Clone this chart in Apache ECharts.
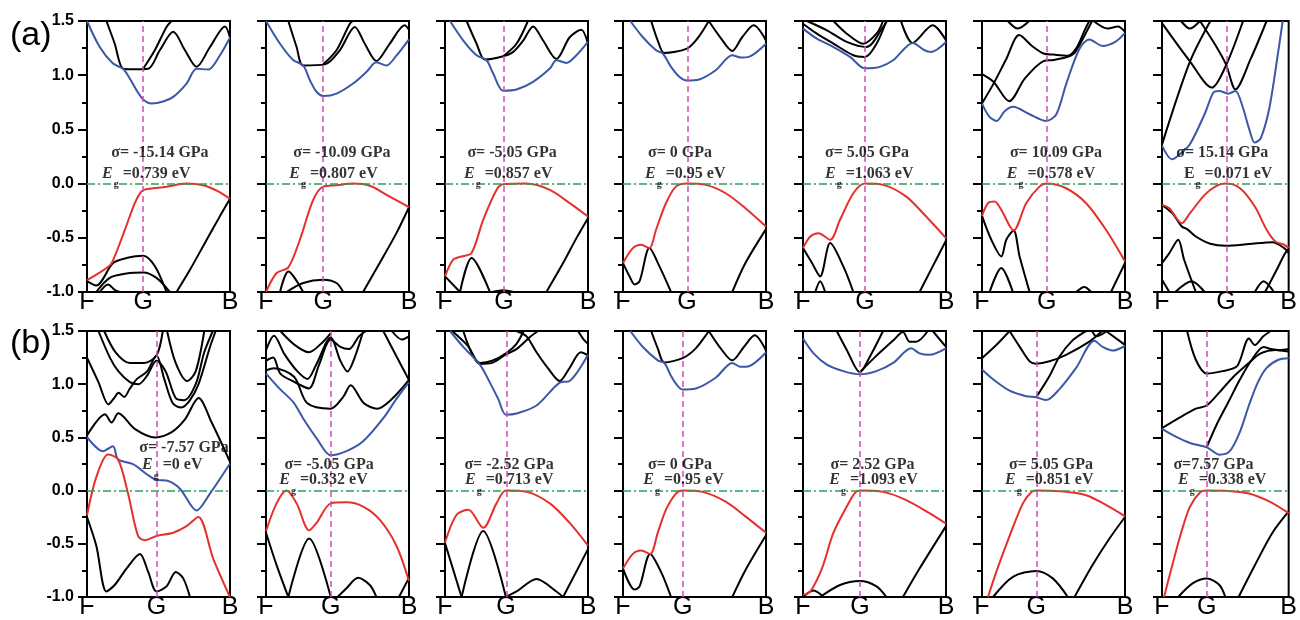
<!DOCTYPE html>
<html>
<head>
<meta charset="utf-8">
<script src="https://cdn.jsdelivr.net/npm/echarts@6/dist/echarts.min.js"></script>
<style>
  html, body { margin: 0; padding: 0; background: #fff; }
  #chart { width: 1300px; height: 620px; }
</style>
</head>
<body>
<div id="chart"></div>
<script>
// ---- axis ticks and k-path labels ----
const Y_TICKS = [-1.0, -0.5, 0.0, 0.5, 1.0, 1.5];
const K_LABELS = ['F', 'G', 'B'];

// position of the G point along the F-G-B path (fraction of path length)
const G_POS_A = [0.393, 0.40, 0.412, 0.447, 0.433, 0.453, 0.505];
const G_POS_B = [0.486, 0.453, 0.426, 0.417, 0.398, 0.379, 0.353];

// applied stress and band gap for each panel
const SIGMA_A = ['σ= -15.14 GPa', 'σ= -10.09 GPa', 'σ= -5.05 GPa', 'σ= 0 GPa', 'σ= 5.05 GPa', 'σ= 10.09 GPa', 'σ= 15.14 GPa'];
const GAP_A = ['0.739', '0.807', '0.857', '0.95', '1.063', '0.578', '0.071'];
const SIGMA_B = ['σ= -7.57 GPa', 'σ= -5.05 GPa', 'σ= -2.52 GPa', 'σ= 0 GPa', 'σ= 2.52 GPa', 'σ= 5.05 GPa', 'σ=7.57 GPa'];
const GAP_B = ['0', '0.332', '0.713', '0.95', '1.093', '0.851', '0.338'];

// ---- band energies (eV) along the path: [k, E] ----
// (a) row
const A1_CB = [[0,1.5],[0.089,1.26],[0.182,1.107],[0.252,1.06],[0.299,0.97],[0.346,0.862],[0.393,0.776],[0.451,0.739],[0.533,0.757],[0.603,0.80],[0.696,0.923],[0.766,1.06],[0.848,1.052],[0.93,1.184],[1,1.347]];
const A1_VB = [[0,-0.89],[0.159,-0.755],[0.194,-0.67],[0.264,-0.43],[0.334,-0.18],[0.374,-0.083],[0.397,-0.058],[0.556,-0.03],[0.696,0],[0.813,-0.015],[0.907,-0.065],[1,-0.14]];
const A1_BANDS = [
  [[0.626,-1.0],[0.72,-0.795],[0.836,-0.52],[0.93,-0.30],[1,-0.14]],
  [[0,-0.90],[0.065,-0.94],[0.182,-0.733],[0.276,-0.687],[0.393,-0.665],[0.474,-0.76],[0.556,-1.0]],
  [[0.065,-1.0],[0.159,-0.87],[0.276,-0.83],[0.393,-0.82],[0.486,-0.87],[0.579,-1.0]],
  [[0.089,-1.0],[0.147,-0.93],[0.194,-0.98],[0.229,-1.0]],
  [[0.136,1.5],[0.194,1.29],[0.252,1.06],[0.322,1.055],[0.428,1.06],[0.509,1.23],[0.603,1.40],[0.685,1.23],[0.766,1.077],[0.86,1.26],[0.965,1.45],[1,1.35]],
  [[0.393,1.06],[0.474,1.23],[0.556,1.445],[0.591,1.5]]
];

const A2_CB = [[0,1.5],[0.098,1.29],[0.19,1.14],[0.26,1.09],[0.307,0.954],[0.353,0.847],[0.405,0.807],[0.493,0.83],[0.609,0.923],[0.702,1.03],[0.772,1.12],[0.842,1.09],[0.912,1.18],[1,1.33]];
const A2_VB = [[0,-1.0],[0.074,-0.825],[0.156,-0.773],[0.237,-0.518],[0.33,-0.15],[0.40,-0.028],[0.493,-0.015],[0.609,0],[0.726,-0.02],[0.865,-0.12],[1,-0.218]];
const A2_BANDS = [
  [[0.679,-1.0],[0.795,-0.733],[0.912,-0.457],[1,-0.218]],
  [[0.098,-1.0],[0.156,-0.81],[0.26,-1.0]],
  [[0.144,-1.0],[0.26,-0.917],[0.40,-0.887],[0.493,-0.917],[0.54,-1.0]],
  [[0.156,1.5],[0.214,1.26],[0.26,1.09],[0.412,1.10],[0.516,1.23],[0.621,1.445],[0.691,1.29],[0.772,1.13],[0.865,1.29],[0.97,1.46],[1,1.42]],
  [[0.40,1.10],[0.493,1.23],[0.586,1.475],[0.609,1.5]]
];

const A3_CB = [[0.035,1.5],[0.128,1.32],[0.221,1.184],[0.291,1.138],[0.337,1.015],[0.407,0.857],[0.50,0.868],[0.616,0.939],[0.733,1.061],[0.779,1.138],[0.849,1.113],[0.919,1.184],[1,1.307]];
const A3_VB = [[0,-0.856],[0.058,-0.70],[0.116,-0.672],[0.186,-0.64],[0.267,-0.334],[0.36,-0.058],[0.407,-0.006],[0.57,0],[0.733,-0.058],[0.872,-0.18],[1,-0.304]];
const A3_BANDS = [
  [[0.709,-1],[0.826,-0.733],[0.919,-0.503],[1,-0.319]],
  [[0,-0.856],[0.105,-1.0]],
  [[0.105,-1.0],[0.186,-0.687],[0.314,-1.0]],
  [[0.33,-1],[0.407,-0.985],[0.48,-1]],
  [[0.151,1.5],[0.221,1.29],[0.279,1.144],[0.407,1.175],[0.477,1.215],[0.547,1.32],[0.616,1.45],[0.686,1.32],[0.779,1.15],[0.872,1.35],[0.953,1.42],[1,1.29]],
  [[0.407,1.175],[0.50,1.29],[0.58,1.5]]
];

const A4_CB = [[0.051,1.5],[0.139,1.35],[0.231,1.23],[0.278,1.20],[0.336,1.077],[0.394,0.985],[0.447,0.95],[0.532,0.96],[0.648,1.046],[0.764,1.184],[0.822,1.163],[0.88,1.169],[1,1.29]];
const A4_VB = [[0,-0.733],[0.069,-0.595],[0.127,-0.564],[0.185,-0.595],[0.231,-0.426],[0.30,-0.181],[0.37,-0.028],[0.447,0],[0.579,-0.012],[0.718,-0.089],[0.856,-0.227],[1,-0.396]];
const A4_BANDS = [
  [[0.764,-1],[0.856,-0.733],[1,-0.42]],
  [[0,-0.733],[0.046,-0.856],[0.081,-0.93],[0.116,-0.90],[0.185,-0.595],[0.255,-0.764],[0.336,-1]],
  [[0.197,1.5],[0.243,1.32],[0.289,1.205],[0.447,1.245],[0.52,1.337],[0.60,1.5]],
  [[0.60,1.5],[0.68,1.35],[0.764,1.224],[0.833,1.35],[0.914,1.46],[1,1.32]]
];

const A5_CB = [[0,1.43],[0.097,1.337],[0.213,1.26],[0.329,1.169],[0.433,1.063],[0.537,1.077],[0.63,1.138],[0.769,1.298],[0.85,1.23],[0.896,1.215],[1,1.307]];
const A5_VB = [[0,-0.595],[0.051,-0.488],[0.109,-0.457],[0.19,-0.518],[0.259,-0.334],[0.352,-0.089],[0.433,0],[0.56,-0.012],[0.722,-0.12],[0.861,-0.304],[1,-0.503]];
const A5_BANDS = [
  [[0.815,-1],[0.907,-0.764],[1,-0.525]],
  [[0,-0.595],[0.063,-0.733],[0.12,-0.856],[0.19,-0.549],[0.282,-0.764],[0.352,-1]],
  [[0.086,-1],[0.12,-0.90],[0.155,-1]],
  [[0,1.475],[0.097,1.383],[0.213,1.291],[0.352,1.184],[0.433,1.169],[0.514,1.29],[0.583,1.5]],
  [[0.028,1.5],[0.167,1.414],[0.306,1.307],[0.444,1.26],[0.56,1.445],[0.588,1.5]],
  [[0.213,1.5],[0.306,1.383],[0.421,1.29],[0.514,1.383],[0.56,1.5]],
  [[0.685,1.5],[0.766,1.298],[0.907,1.46],[1,1.322]]
];

const A6_CB = [[0,0.738],[0.05,0.62],[0.102,0.578],[0.16,0.67],[0.218,0.708],[0.333,0.64],[0.449,0.578],[0.52,0.64],[0.588,0.916],[0.68,1.24],[0.75,1.33],[0.843,1.27],[0.935,1.31],[1,1.39]];
const A6_VB = [[0,-0.298],[0.042,-0.181],[0.088,-0.166],[0.135,-0.242],[0.221,-0.433],[0.309,-0.181],[0.402,-0.028],[0.453,0],[0.588,-0.043],[0.728,-0.181],[0.867,-0.426],[1,-0.718]];
const A6_BANDS = [
  [[0,-0.298],[0.065,-0.518],[0.135,-0.672],[0.17,-0.518],[0.221,-0.433],[0.263,-0.672],[0.333,-1]],
  [[0.053,-1],[0.135,-0.779],[0.216,-1]],
  [[0.658,-1],[0.716,-0.954],[0.763,-1]],
  [[0.902,-1],[1,-0.733]],
  [[0,1.01],[0.08,0.94],[0.19,0.76],[0.30,0.97],[0.43,1.13],[0.50,1.14],[0.60,1.17],[0.65,1.21],[0.75,1.45],[0.77,1.5]],
  [[0,0.74],[0.08,0.92],[0.17,1.15],[0.26,1.37],[0.35,1.27],[0.43,1.20],[0.50,1.19],[0.60,1.18],[0.66,1.25],[0.72,1.42],[0.75,1.5]],
  [[0.18,1.5],[0.25,1.43],[0.33,1.5]],
  [[0.78,1.5],[0.88,1.43],[0.95,1.45],[1,1.40]]
];

const A7_CB = [[0,0.35],[0.079,0.224],[0.14,0.27],[0.219,0.36],[0.336,0.64],[0.406,0.84],[0.452,0.855],[0.522,0.83],[0.58,0.855],[0.639,0.70],[0.685,0.517],[0.732,0.378],[0.78,0.42],[0.848,0.70],[0.918,1.22],[0.953,1.5]];
const A7_VB = [[0,-0.196],[0.058,-0.227],[0.156,-0.365],[0.221,-0.273],[0.337,-0.104],[0.43,-0.021],[0.505,0],[0.616,-0.043],[0.733,-0.212],[0.826,-0.426],[0.895,-0.534],[0.965,-0.564],[1,-0.595]];
const A7_BANDS = [
  [[0,-0.196],[0.081,-0.273],[0.156,-0.396],[0.198,-0.42],[0.267,-0.488],[0.381,-0.555],[0.505,-0.574],[0.686,-0.558],[0.872,-0.54],[0.965,-0.595],[1,-0.64]],
  [[0,-0.733],[0.058,-0.641],[0.128,-0.518],[0.174,-0.70],[0.267,-1]],
  [[0,-0.887],[0.058,-1]],
  [[0.105,-1],[0.233,-0.90],[0.337,-1]],
  [[0.733,-1],[0.802,-0.90],[0.884,-1]],
  [[0.814,-1],[0.919,-0.764],[0.965,-0.656],[1,-0.6]],
  [[0,0.36],[0.219,1.12],[0.382,1.5]],
  [[0,1.48],[0.219,1.13],[0.394,0.886],[0.505,1.09],[0.64,1.5]],
  [[0.30,1.5],[0.42,1.28],[0.505,1.10],[0.58,0.87],[0.70,1.15],[0.826,1.5]],
  [[0.15,1.5],[0.22,1.43],[0.30,1.5]]
];

// (b) row
const B1_CB = [[0,0.503],[0.112,0.371],[0.182,0.417],[0.217,0.294],[0.322,0.248],[0.416,0.156],[0.486,0.101],[0.556,0.095],[0.65,0.018],[0.766,-0.187],[0.86,-0.028],[1,0.255]];
const B1_VB = [[0,-0.233],[0.065,0.126],[0.147,0.34],[0.217,0.294],[0.287,-0.028],[0.357,-0.426],[0.404,-0.466],[0.486,-0.426],[0.603,-0.396],[0.696,-0.334],[0.778,-0.248],[0.883,-0.641],[1,-1]];
const B1_BANDS = [
  [[0,-0.248],[0.065,-0.518],[0.136,-0.948],[0.194,-0.887],[0.276,-0.733],[0.37,-0.595],[0.428,-0.764],[0.486,-0.948],[0.556,-0.90],[0.621,-0.764],[0.673,-0.825],[0.72,-1]],
  [[0,0.517],[0.126,0.717],[0.172,0.64],[0.219,0.726],[0.336,0.578],[0.476,0.50],[0.592,0.55],[0.685,0.67],[0.78,0.87],[0.872,0.64],[1,0.27]],
  [[0,1.25],[0.08,1.02],[0.15,0.81],[0.19,0.87],[0.22,0.92],[0.26,0.88],[0.30,0.96],[0.35,1.05],[0.42,1.12],[0.486,1.27],[0.54,1.05],[0.60,0.82],[0.66,0.78],[0.72,0.85],[0.78,1.0],[0.86,1.35],[0.90,1.5]],
  [[0.08,1.5],[0.16,1.25],[0.22,1.12],[0.30,1.02],[0.36,1.0],[0.42,1.08],[0.486,1.22],[0.55,1.12],[0.62,0.87],[0.68,0.85],[0.76,1.0],[0.82,1.3],[0.88,1.5]],
  [[0.12,1.5],[0.20,1.3],[0.30,1.2],[0.40,1.2],[0.486,1.27],[0.53,1.5]],
  [[0.56,1.5],[0.62,1.2],[0.70,1.03],[0.76,1.12],[0.82,1.5]]
];

const B2_CB = [[0,1.10],[0.098,0.954],[0.191,0.831],[0.26,0.678],[0.353,0.494],[0.453,0.332],[0.563,0.371],[0.679,0.463],[0.819,0.678],[0.912,0.862],[1,1.02]];
const B2_VB = [[0,-0.38],[0.074,-0.12],[0.144,0],[0.214,-0.12],[0.302,-0.374],[0.353,-0.304],[0.453,-0.12],[0.563,-0.11],[0.679,-0.15],[0.795,-0.273],[0.912,-0.518],[1,-0.85]];
const B2_BANDS = [
  [[0,-0.396],[0.074,-0.70],[0.156,-1]],
  [[0.156,-1],[0.302,-0.451],[0.453,-1]],
  [[0.50,-1],[0.563,-0.917],[0.644,-0.82],[0.726,-0.887],[0.772,-1]],
  [[0.93,-1],[1,-0.82]],
  [[0,1.13],[0.056,1.15],[0.196,1.07],[0.289,0.82],[0.453,0.77],[0.54,0.88],[0.592,0.99],[0.685,0.82],[0.778,0.77],[0.88,0.86],[1,1.04]],
  [[0,1.32],[0.056,1.455],[0.13,1.28],[0.22,1.12],[0.29,1.05],[0.35,1.18],[0.453,1.44],[0.52,1.22],[0.57,1.12],[0.62,1.25],[0.68,1.5]],
  [[0,1.22],[0.05,1.25],[0.10,1.10],[0.20,1.02],[0.30,0.96],[0.37,1.18],[0.453,1.42],[0.52,1.35],[0.58,1.33],[0.65,1.45],[0.70,1.5]],
  [[0.10,1.5],[0.20,1.37],[0.30,1.30],[0.40,1.40],[0.453,1.48]],
  [[0.82,1.5],[0.913,1.26],[1,1.04]],
  [[0.88,1.5],[0.95,1.42],[1,1.45]]
];

const B3_CB = [[0.035,1.5],[0.128,1.35],[0.244,1.184],[0.314,1.015],[0.372,0.862],[0.426,0.713],[0.50,0.724],[0.64,0.80],[0.802,1.015],[0.872,1.03],[1,1.276]];
const B3_VB = [[0,-0.488],[0.081,-0.227],[0.163,-0.181],[0.267,-0.35],[0.36,-0.12],[0.426,0],[0.57,-0.012],[0.733,-0.12],[0.872,-0.304],[1,-0.518]];
const B3_BANDS = [
  [[0,-0.494],[0.116,-1]],
  [[0.116,-1],[0.267,-0.38],[0.426,-1]],
  [[0.426,-1],[0.5,-0.948],[0.64,-0.83],[0.779,-0.948],[0.826,-1]],
  [[0.826,-1],[1,-0.55]],
  [[0.128,1.5],[0.244,1.19],[0.33,1.2],[0.426,1.28],[0.50,1.33],[0.60,1.45],[0.65,1.5]],
  [[0.05,1.5],[0.16,1.36],[0.244,1.2],[0.33,1.22],[0.426,1.29],[0.5,1.38],[0.55,1.5]],
  [[0.50,1.5],[0.57,1.45],[0.64,1.30],[0.72,1.15],[0.802,1.03],[0.87,1.15],[0.95,1.3],[1,1.27]],
  [[0.93,1.5],[0.97,1.42],[1,1.38]]
];

const B4_CB = [[0.051,1.5],[0.139,1.35],[0.243,1.224],[0.289,1.20],[0.336,1.077],[0.382,0.985],[0.417,0.95],[0.509,0.96],[0.648,1.061],[0.764,1.20],[0.822,1.163],[0.88,1.169],[1,1.298]];
const B4_VB = [[0,-0.733],[0.069,-0.595],[0.127,-0.564],[0.19,-0.595],[0.243,-0.396],[0.30,-0.181],[0.37,-0.028],[0.417,0],[0.556,-0.012],[0.718,-0.104],[0.856,-0.242],[1,-0.396]];
const B4_BANDS = [
  [[0.764,-1],[0.856,-0.748],[1,-0.42]],
  [[0,-0.733],[0.081,-0.93],[0.116,-0.90],[0.19,-0.595],[0.266,-0.764],[0.336,-1]],
  [[0.197,1.5],[0.243,1.337],[0.289,1.205],[0.417,1.245],[0.509,1.337],[0.60,1.5]],
  [[0.60,1.5],[0.683,1.337],[0.764,1.224],[0.845,1.35],[0.921,1.46],[1,1.316]]
];

const B5_CB = [[0,1.43],[0.074,1.29],[0.167,1.184],[0.282,1.123],[0.398,1.093],[0.514,1.123],[0.63,1.20],[0.757,1.337],[0.815,1.29],[0.884,1.276],[1,1.337]];
const B5_VB = [[0,-0.98],[0.051,-0.948],[0.132,-0.733],[0.213,-0.396],[0.306,-0.15],[0.363,-0.021],[0.398,0],[0.56,-0.012],[0.722,-0.089],[0.884,-0.212],[1,-0.31]];
const B5_BANDS = [
  [[0,-1],[0.074,-0.94],[0.144,-1]],
  [[0.12,-1],[0.259,-0.887],[0.398,-0.85],[0.514,-0.90],[0.583,-1]],
  [[0.699,-1],[0.815,-0.733],[1,-0.334]],
  [[0.236,1.5],[0.306,1.322],[0.398,1.113],[0.468,1.26],[0.56,1.5]],
  [[0.398,1.113],[0.50,1.25],[0.63,1.41],[0.699,1.49],[0.745,1.40],[0.792,1.40],[0.873,1.5]],
  [[0.907,1.5],[1,1.35]]
];

const B6_CB = [[0,1.138],[0.077,1.046],[0.193,0.939],[0.309,0.887],[0.379,0.877],[0.449,0.851],[0.542,0.954],[0.658,1.153],[0.786,1.408],[0.844,1.35],[0.914,1.316],[1,1.359]];
const B6_VB = [[0.042,-1],[0.10,-0.764],[0.193,-0.426],[0.286,-0.12],[0.344,-0.015],[0.379,0],[0.542,-0.006],[0.728,-0.043],[0.867,-0.135],[1,-0.242]];
const B6_BANDS = [
  [[0.077,-1],[0.216,-0.81],[0.379,-0.755],[0.495,-0.825],[0.60,-1]],
  [[0.647,-1],[0.772,-0.702],[0.888,-0.457],[1,-0.248]],
  [[0,1.245],[0.10,1.368],[0.193,1.5]],
  [[0.193,1.5],[0.263,1.353],[0.333,1.215],[0.379,1.193],[0.472,1.215],[0.588,1.276],[0.751,1.4],[0.84,1.5]],
  [[0.379,0.877],[0.472,1.077],[0.542,1.26],[0.635,1.414],[0.728,1.5]],
  [[0.77,1.5],[0.80,1.45],[0.84,1.47],[0.87,1.5]],
  [[0.867,1.5],[1,1.37]]
];

const B7_CB = [[0,0.58],[0.105,0.509],[0.221,0.448],[0.353,0.408],[0.40,0.37],[0.453,0.338],[0.535,0.371],[0.616,0.555],[0.686,0.80],[0.756,1.015],[0.826,1.153],[0.919,1.23],[1,1.245]];
const B7_VB = [[0.016,-1],[0.081,-0.702],[0.151,-0.396],[0.221,-0.15],[0.302,-0.015],[0.353,0],[0.523,-0.003],[0.686,-0.028],[0.849,-0.104],[1,-0.212]];
const B7_BANDS = [
  [[0.128,-1],[0.244,-0.87],[0.353,-0.825],[0.453,-0.887],[0.50,-1]],
  [[0.605,-1],[0.733,-0.702],[0.872,-0.396],[1,-0.196]],
  [[0,0.586],[0.128,0.678],[0.267,0.77],[0.353,0.80],[0.453,0.923],[0.57,1.077],[0.686,1.20],[0.779,1.29],[0.895,1.322],[1,1.307]],
  [[0.353,0.408],[0.43,0.617],[0.523,0.83],[0.616,1.046],[0.709,1.23],[0.802,1.35],[0.86,1.33],[0.93,1.32],[1,1.33]],
  [[0.198,1.5],[0.267,1.23],[0.353,1.10],[0.477,1.123],[0.593,1.169],[0.686,1.43],[0.733,1.368],[0.80,1.45],[0.857,1.5]]
];

// ---- layout (pixels) ----
const COL_LEFT = [87, 266, 445, 623, 803, 982, 1162];
const ROW_TOP = [21, 331];
const PANEL_W = 143;
const PANEL_H = 271;
// annotation anchors in data units: [sigma centre k, sigma E, gap-line left k, gap-line E]
const NOTE_A = [[0.51,0.283,0.105,0.094],[0.531,0.283,0.163,0.094],[0.469,0.283,0.133,0.094],[0.399,0.283,0.154,0.094],[0.448,0.283,0.154,0.094],[0.517,0.283,0.173,0.094],[0.476,0.283,0.173,0.094]];
const NOTE_B = [[0.678,0.397,0.385,0.24],[0.441,0.244,0.093,0.097],[0.448,0.244,0.140,0.097],[0.399,0.244,0.142,0.097],[0.486,0.244,0.184,0.097],[0.483,0.244,0.161,0.097],[0.406,0.244,0.126,0.097]];

const BLUE = '#3b57a8';
const RED = '#e5302b';
const GREEN = '#2c9f58';
const MAGENTA = '#d24cb5';
const SERIF = 'Liberation Serif';
const SANS = 'Liberation Sans';

const ROWS = [
  {
    cb: [A1_CB, A2_CB, A3_CB, A4_CB, A5_CB, A6_CB, A7_CB],
    vb: [A1_VB, A2_VB, A3_VB, A4_VB, A5_VB, A6_VB, A7_VB],
    bands: [A1_BANDS, A2_BANDS, A3_BANDS, A4_BANDS, A5_BANDS, A6_BANDS, A7_BANDS],
    gpos: G_POS_A, sigma: SIGMA_A, gap: GAP_A, note: NOTE_A, uprightE: [6]
  },
  {
    cb: [B1_CB, B2_CB, B3_CB, B4_CB, B5_CB, B6_CB, B7_CB],
    vb: [B1_VB, B2_VB, B3_VB, B4_VB, B5_VB, B6_VB, B7_VB],
    bands: [B1_BANDS, B2_BANDS, B3_BANDS, B4_BANDS, B5_BANDS, B6_BANDS, B7_BANDS],
    gpos: G_POS_B, sigma: SIGMA_B, gap: GAP_B, note: NOTE_B, uprightE: []
  }
];

function bandLine(idx, pts, color) {
  return {
    type: 'line', xAxisIndex: idx, yAxisIndex: idx, data: pts,
    symbol: 'none', showSymbol: false, smooth: 0.3, silent: true,
    lineStyle: { color: color, width: 2 }, z: 3, animation: false
  };
}

const grids = [], xAxes = [], yAxes = [], series = [];

ROWS.forEach((row, r) => {
  row.cb.forEach((cb, c) => {
    const idx = grids.length;
    const g = row.gpos[c];
    grids.push({
      left: COL_LEFT[c], top: ROW_TOP[r], width: PANEL_W, height: PANEL_H,
      show: true, borderColor: '#000', borderWidth: 2, backgroundColor: 'transparent'
    });
    xAxes.push({
      gridIndex: idx, type: 'value', min: 0, max: 1,
      axisLine: { show: false }, axisTick: { show: false }, splitLine: { show: false },
      axisLabel: {
        customValues: [0, g, 1],
        formatter: v => (v <= 0 ? K_LABELS[0] : (v >= 1 ? K_LABELS[2] : K_LABELS[1])),
        fontFamily: SANS, fontSize: 25, color: '#000', margin: -2
      }
    });
    yAxes.push({
      gridIndex: idx, type: 'value',
      min: Y_TICKS[0], max: Y_TICKS[Y_TICKS.length - 1], interval: Y_TICKS[1] - Y_TICKS[0],
      axisLine: { show: true, lineStyle: { color: '#000', width: 2 } },
      axisTick: { show: true, inside: false, length: 9, lineStyle: { color: '#000', width: 2 } },
      minorTick: { show: true, splitNumber: 2, length: 5, lineStyle: { color: '#000', width: 2 } },
      splitLine: { show: false },
      axisLabel: {
        show: c === 0, formatter: v => v.toFixed(1),
        fontFamily: SANS, fontSize: 16, fontWeight: 'bold', color: '#000', margin: 13
      }
    });

    // Fermi level (E = 0) and the G point
    series.push({
      type: 'line', xAxisIndex: idx, yAxisIndex: idx, data: [[0, 0], [1, 0]],
      symbol: 'none', lineStyle: { opacity: 0 }, silent: true, z: 2, animation: false,
      markLine: {
        silent: true, symbol: 'none', animation: false, label: { show: false },
        data: [
          { yAxis: 0, lineStyle: { color: GREEN, width: 1.5, type: [8, 3, 2, 3] } },
          { xAxis: g, lineStyle: { color: MAGENTA, width: 1.5, type: [6, 4] } }
        ]
      }
    });

    row.bands[c].forEach(pts => series.push(bandLine(idx, pts, '#000')));
    series.push(bandLine(idx, cb, BLUE));
    series.push(bandLine(idx, row.vb[c], RED));

    // stress and gap annotations
    const n = row.note[c];
    const eStyle = row.uprightE.indexOf(c) >= 0 ? 'eu' : 'e';
    series.push({
      type: 'scatter', xAxisIndex: idx, yAxisIndex: idx, symbolSize: 0, silent: true, z: 10,
      animation: false,
      data: [
        {
          value: [n[0], n[1]],
          label: {
            show: true, position: [0, 0], align: 'center', verticalAlign: 'middle',
            formatter: row.sigma[c],
            fontFamily: SERIF, fontWeight: 'bold', fontSize: 16, color: '#000'
          }
        },
        {
          value: [n[2], n[3]],
          label: {
            show: true, position: [0, 0], align: 'left', verticalAlign: 'middle',
            formatter: '{' + eStyle + '|E}{g|g}{t| =' + row.gap[c] + ' eV}',
            rich: {
              e: { fontFamily: SERIF, fontWeight: 'bold', fontStyle: 'italic', fontSize: 16, color: '#000' },
              eu: { fontFamily: SERIF, fontWeight: 'bold', fontSize: 16, color: '#000' },
              g: { fontFamily: SERIF, fontWeight: 'bold', fontSize: 10, color: '#000', padding: [22, 0, 0, 1] },
              t: { fontFamily: SERIF, fontWeight: 'bold', fontSize: 16, color: '#000' }
            }
          }
        }
      ]
    });
  });
});

const chart = echarts.init(document.getElementById('chart'), null, { renderer: 'canvas' });
chart.setOption({
  backgroundColor: '#fff',
  animation: false,
  title: [
    { text: '(a)', left: 10, top: 19, padding: 0, textStyle: { fontFamily: SANS, fontSize: 34, fontWeight: 'normal', color: '#000' } },
    { text: '(b)', left: 10, top: 327, padding: 0, textStyle: { fontFamily: SANS, fontSize: 34, fontWeight: 'normal', color: '#000' } }
  ],
  grid: grids,
  xAxis: xAxes,
  yAxis: yAxes,
  series: series
});
</script>
</body>
</html>
